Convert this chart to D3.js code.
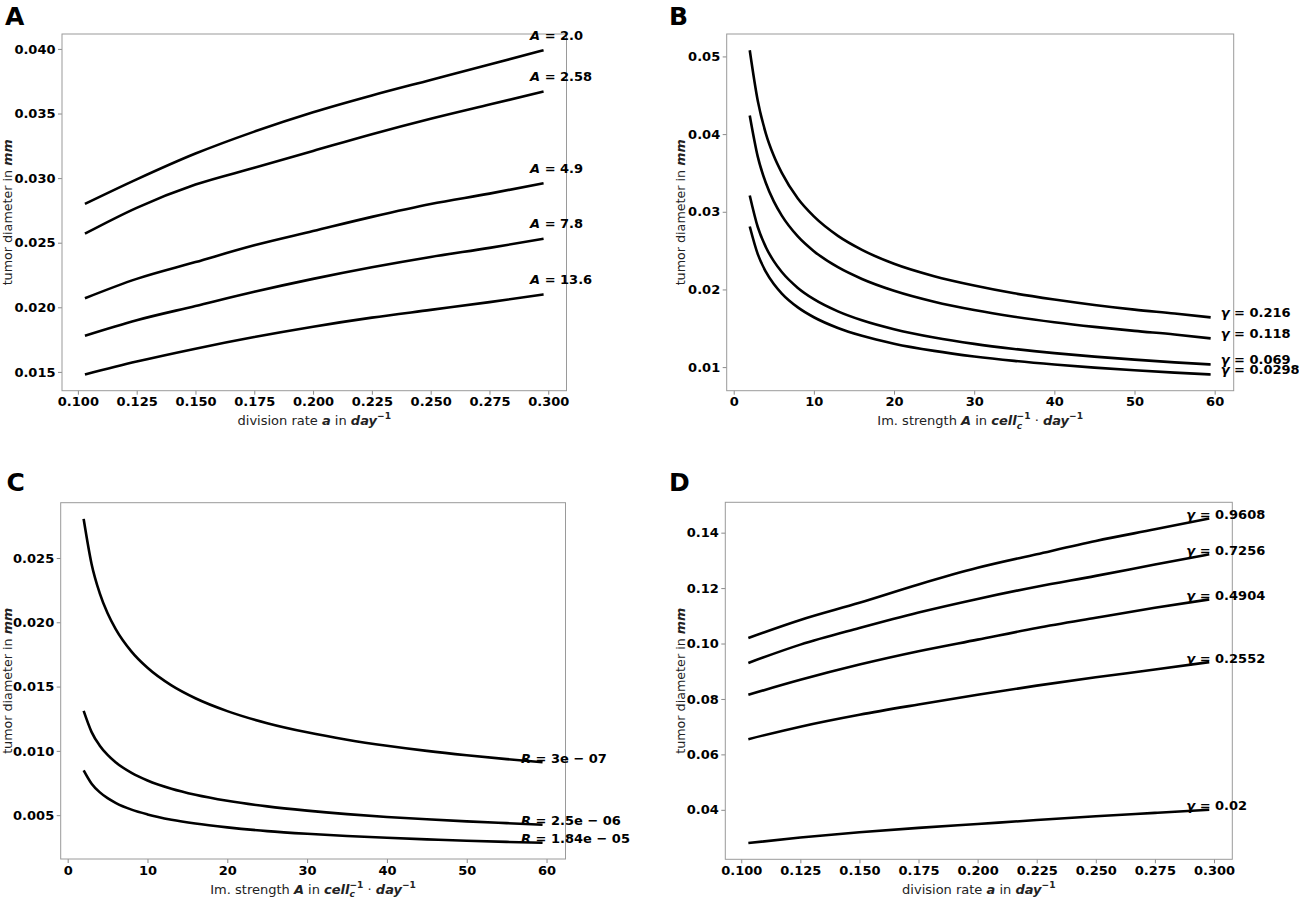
<!DOCTYPE html>
<html>
<head>
<meta charset="utf-8">
<script src="https://cdn.jsdelivr.net/npm/d3@7"></script>
<style>
  html, body { margin: 0; padding: 0; background: #fff; }
  svg { display: block; }
  text { font-family: "DejaVu Sans", sans-serif; }
</style>
</head>
<body>
<svg id="chart" width="1299" height="898"></svg>
<script>
// ---------------- DATA ----------------
// Panels A & D: x = division rate a (day^-1)
const divisionRates = [0.103, 0.125, 0.15, 0.175, 0.2, 0.225, 0.25, 0.275, 0.298];
// Panels B & C: x = immune strength A
const immStrength = [2, 3, 4, 5, 6, 8, 10, 13, 16, 20, 25, 30, 35, 40, 45, 50, 55, 59.5];

// Panel A: tumor diameter vs division rate for several A
const seriesA_names = ["2.0", "2.58", "4.9", "7.8", "13.6"];
const seriesA_A20  = [0.0280, 0.0299, 0.0319, 0.0336, 0.0351, 0.0364, 0.0376, 0.0388, 0.0399];
const seriesA_A258 = [0.0257, 0.0277, 0.0295, 0.0308, 0.0321, 0.0334, 0.0346, 0.0357, 0.0367];
const seriesA_A49  = [0.0207, 0.0222, 0.0235, 0.0248, 0.0259, 0.0270, 0.0280, 0.0288, 0.0296];
const seriesA_A78  = [0.0178, 0.0190, 0.0201, 0.0212, 0.0222, 0.0231, 0.0239, 0.0246, 0.0253];
const seriesA_A136 = [0.0148, 0.0158, 0.0168, 0.0177, 0.0185, 0.0192, 0.0198, 0.0204, 0.0210];

// Panel B: tumor diameter vs A for several gamma
const seriesB_names = ["0.216", "0.118", "0.069", "0.0298"];
const seriesB_g216 = [0.0508, 0.0443, 0.0401, 0.0372, 0.0350, 0.0317, 0.0294, 0.0269, 0.0251, 0.0233, 0.0217, 0.0205, 0.0195, 0.0187, 0.0180, 0.0174, 0.0169, 0.0164];
const seriesB_g118 = [0.0424, 0.0371, 0.03373, 0.03133, 0.02951, 0.02683, 0.02493, 0.02286, 0.02135, 0.01983, 0.01842, 0.01735, 0.01649, 0.01578, 0.01518, 0.01466, 0.0142, 0.0137];
const seriesB_g069 = [0.0321, 0.02804, 0.02547, 0.02364, 0.02224, 0.0202, 0.01875, 0.01718, 0.01603, 0.01488, 0.01381, 0.01299, 0.01234, 0.0118, 0.01135, 0.01096, 0.01061, 0.01034];
const seriesB_g0298 = [0.0281, 0.02454, 0.02229, 0.02069, 0.01947, 0.01769, 0.01642, 0.01504, 0.01403, 0.01302, 0.01209, 0.01137, 0.0108, 0.01033, 0.00993, 0.00959, 0.00929, 0.00905];

// Panel C: tumor diameter vs A for several R
const seriesC_names = ["3e − 07", "2.5e − 06", "1.84e − 05"];
const seriesC_R1 = [0.02804, 0.02452, 0.02229, 0.0207, 0.01949, 0.01772, 0.01646, 0.01509, 0.01409, 0.01309, 0.01215, 0.01144, 0.01087, 0.0104, 0.0100, 0.00966, 0.00936, 0.00912];
const seriesC_R2 = [0.01311, 0.01146, 0.01042, 0.00968, 0.00911, 0.00829, 0.0077, 0.00706, 0.00659, 0.00612, 0.00568, 0.00535, 0.00508, 0.00486, 0.00468, 0.00452, 0.00438, 0.00426];
const seriesC_R3 = [0.00849, 0.00745, 0.00679, 0.00632, 0.00596, 0.00543, 0.00506, 0.00465, 0.00435, 0.00405, 0.00376, 0.00355, 0.00338, 0.00324, 0.00312, 0.00301, 0.00292, 0.00285];

// Panel D: tumor diameter vs division rate for several gamma
const seriesD_names = ["0.9608", "0.7256", "0.4904", "0.2552", "0.02"];
const seriesD_g9608 = [0.1020, 0.1085, 0.1147, 0.1213, 0.1273, 0.1322, 0.1370, 0.1412, 0.1451];
const seriesD_g7256 = [0.0930, 0.0996, 0.1056, 0.1112, 0.1161, 0.1205, 0.1244, 0.1285, 0.1322];
const seriesD_g4904 = [0.0815, 0.0869, 0.0924, 0.0972, 0.1014, 0.1056, 0.1093, 0.1129, 0.1159];
const seriesD_g2552 = [0.0655, 0.0700, 0.0743, 0.0780, 0.0815, 0.0848, 0.0878, 0.0906, 0.0933];
const seriesD_g002  = [0.0280, 0.0300, 0.0319, 0.0335, 0.0349, 0.0363, 0.0377, 0.0389, 0.0400];

// Tick values
const ticksRateX = [0.100, 0.125, 0.150, 0.175, 0.200, 0.225, 0.250, 0.275, 0.300];
const ticksStrengthX = [0, 10, 20, 30, 40, 50, 60];
const ticksA_y = [0.015, 0.020, 0.025, 0.030, 0.035, 0.040];
const ticksB_y = [0.01, 0.02, 0.03, 0.04, 0.05];
const ticksC_y = [0.005, 0.010, 0.015, 0.020, 0.025];
const ticksD_y = [0.04, 0.06, 0.08, 0.10, 0.12, 0.14];

// ---------------- DRAWING ----------------
const svg = d3.select("#chart");
svg.append("rect").attr("width", 1299).attr("height", 898).attr("fill", "#fff");

function padded(ext) {
  const m = (ext[1] - ext[0]) * 0.05;
  return [ext[0] - m, ext[1] + m];
}

function richText(sel, pieces, baseSize) {
  pieces.forEach(p => {
    const [t, kind] = p;
    const ts = sel.append("tspan").text(t);
    if (kind === "bi") ts.attr("font-weight", "bold").attr("font-style", "italic");
    if (kind === "b") ts.attr("font-weight", "bold");
    if (kind === "sup") ts.attr("font-size", baseSize * 0.7).attr("dy", -baseSize * 0.45).attr("font-weight", "bold");
    if (kind === "sub") ts.attr("font-size", baseSize * 0.7).attr("dy", baseSize * 0.3).attr("font-weight", "bold").attr("font-style", "italic");
    if (kind === "supAfterSub") ts.attr("font-size", baseSize * 0.7).attr("dy", -baseSize * 0.75).attr("dx", -baseSize * 0.42).attr("font-weight", "bold");
    if (kind === "reset") ts.attr("dy", baseSize * 0.45);
  });
}

const xLabelRate = [["division rate ", "n"], ["a", "bi"], [" in ", "n"], ["day", "bi"], ["−1", "sup"]];
const xLabelStrength = [["Im. strength ", "n"], ["A", "bi"], [" in ", "n"], ["cell", "bi"], ["c", "sub"], ["−1", "supAfterSub"], [" · ", "reset"], ["day", "bi"], ["−1", "sup"]];
const yLabel = [["tumor diameter in ", "n"], ["mm", "bi"]];

function drawPanel(cfg) {
  const g = svg.append("g");
  const x = d3.scaleLinear().domain(padded(d3.extent(cfg.xs))).range([cfg.left, cfg.right]);
  const allY = cfg.series.flat();
  const y = d3.scaleLinear().domain(padded(d3.extent(allY))).range([cfg.bottom, cfg.top]);

  const ax = g.append("g").attr("transform", `translate(0,${cfg.bottom})`)
    .call(d3.axisBottom(x).tickValues(cfg.xTicks).tickFormat(cfg.xFmt).tickSize(4).tickPadding(2.5));
  const ay = g.append("g").attr("transform", `translate(${cfg.left},0)`)
    .call(d3.axisLeft(y).tickValues(cfg.yTicks).tickFormat(cfg.yFmt).tickSize(4).tickPadding(2.5));
  [ax, ay].forEach(a => {
    a.select(".domain").remove();
    a.selectAll(".tick line").attr("stroke", "#8a8a8a").attr("stroke-width", 1);
    a.selectAll(".tick text").attr("font-family", "DejaVu Sans").attr("font-weight", "bold")
      .attr("font-size", 13).attr("fill", "#000");
  });

  g.append("rect").attr("x", cfg.left).attr("y", cfg.top)
    .attr("width", cfg.right - cfg.left).attr("height", cfg.bottom - cfg.top)
    .attr("fill", "none").attr("stroke", "#9a9a9a").attr("stroke-width", 1);

  const line = d3.line().x((d, i) => x(cfg.xs[i])).y(d => y(d)).curve(d3.curveMonotoneX);
  cfg.series.forEach((s, k) => {
    g.append("path").attr("d", line(s)).attr("fill", "none")
      .attr("stroke", "#000").attr("stroke-width", 2.6).attr("stroke-linecap", "butt");
    const lastX = x(cfg.xs[cfg.xs.length - 1]);
    const lastY = y(s[s.length - 1]);
    const t = g.append("text").attr("x", lastX + cfg.labelDx).attr("y", lastY + cfg.labelDy)
      .attr("font-size", 13).attr("font-weight", "bold").attr("fill", "#000");
    richText(t, [[cfg.sym, "bi"], [" = " + cfg.names[k], "b"]], 13);
  });

  const xl = g.append("text").attr("x", (cfg.left + cfg.right) / 2).attr("y", cfg.bottom + 34.5)
    .attr("text-anchor", "middle").attr("font-size", 13).attr("fill", "#222");
  richText(xl, cfg.xLabel, 13);
  const yl = g.append("text")
    .attr("transform", `translate(${cfg.yLabelX},${(cfg.top + cfg.bottom) / 2}) rotate(-90)`)
    .attr("text-anchor", "middle").attr("font-size", 12.7).attr("fill", "#222");
  richText(yl, yLabel, 12.7);

  g.append("text").attr("x", cfg.letterX).attr("y", cfg.letterY).text(cfg.letter)
    .attr("font-family", "Liberation Sans, Arial, sans-serif").attr("font-weight", "bold")
    .attr("font-size", 25).attr("fill", "#000");
}

const f3 = d3.format(".3f"), f2 = d3.format(".2f"), f0 = d3.format("d");

drawPanel({
  letter: "A", letterX: 5, letterY: 25,
  left: 62, right: 566.5, top: 34, bottom: 390.7,
  xs: divisionRates,
  series: [seriesA_A20, seriesA_A258, seriesA_A49, seriesA_A78, seriesA_A136],
  names: seriesA_names, sym: "A", labelDx: -13.5, labelDy: -10.5,
  xTicks: ticksRateX, yTicks: ticksA_y, xFmt: f3, yFmt: f3,
  xLabel: xLabelRate, yLabelX: 11.5
});

drawPanel({
  letter: "B", letterX: 669, letterY: 25,
  left: 726.7, right: 1233.7, top: 34, bottom: 390.7,
  xs: immStrength,
  series: [seriesB_g216, seriesB_g118, seriesB_g069, seriesB_g0298],
  names: seriesB_names, sym: "γ", labelDx: 10, labelDy: 0,
  xTicks: ticksStrengthX, yTicks: ticksB_y, xFmt: f0, yFmt: f2,
  xLabel: xLabelStrength, yLabelX: 684.5
});

drawPanel({
  letter: "C", letterX: 6.5, letterY: 491,
  left: 60.7, right: 565.5, top: 502.7, bottom: 859,
  xs: immStrength,
  series: [seriesC_R1, seriesC_R2, seriesC_R3],
  names: seriesC_names, sym: "R", labelDx: -21.5, labelDy: 0.5,
  xTicks: ticksStrengthX, yTicks: ticksC_y, xFmt: f0, yFmt: f3,
  xLabel: xLabelStrength, yLabelX: 11.5
});

drawPanel({
  letter: "D", letterX: 669, letterY: 491,
  left: 725.3, right: 1232.3, top: 502.3, bottom: 859.3,
  xs: divisionRates,
  series: [seriesD_g9608, seriesD_g7256, seriesD_g4904, seriesD_g2552, seriesD_g002],
  names: seriesD_names, sym: "γ", labelDx: -23, labelDy: 0.5,
  xTicks: ticksRateX, yTicks: ticksD_y, xFmt: f3, yFmt: f2,
  xLabel: xLabelRate, yLabelX: 684.5
});
</script>
</body>
</html>
